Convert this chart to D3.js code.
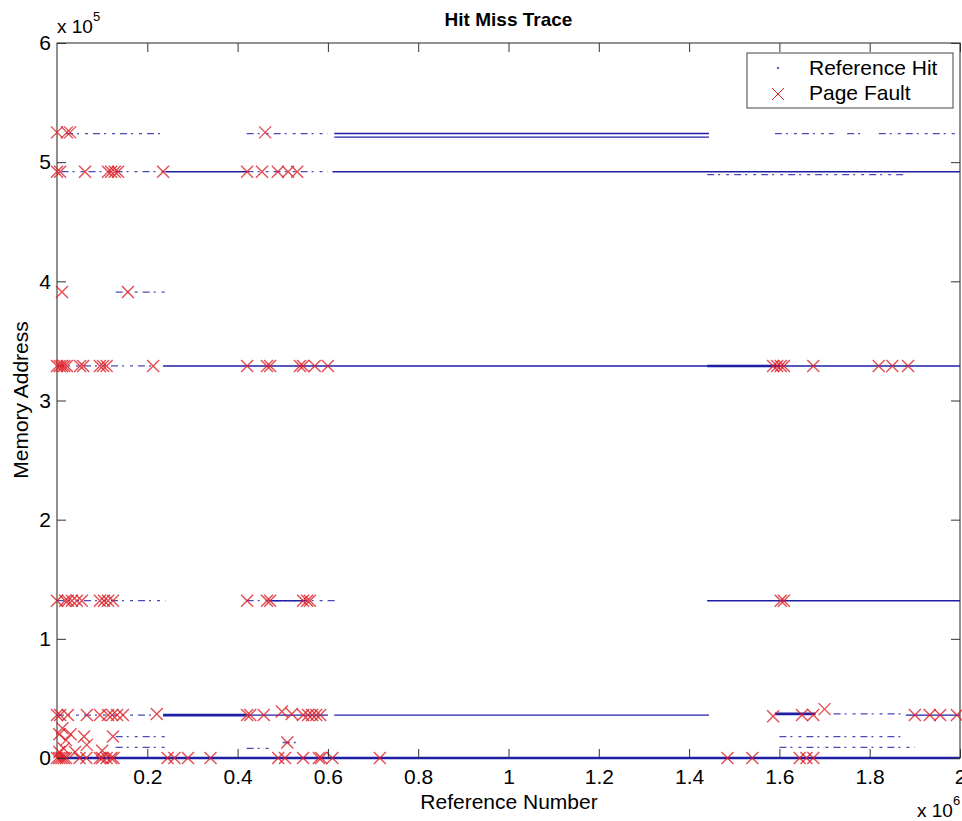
<!DOCTYPE html>
<html>
<head>
<meta charset="utf-8">
<script src="https://cdn.jsdelivr.net/npm/d3@7/dist/d3.min.js"></script>
<style>
  body { margin: 0; background: #fff; }
  svg { font-family: Arial, "Liberation Sans", sans-serif; }
</style>
</head>
<body>
<svg id="chart" width="962" height="821"></svg>
<script>
// reference number in units of 1e6, memory address in units of 1e5
var xTicks = [0.2, 0.4, 0.6, 0.8, 1, 1.2, 1.4, 1.6, 1.8, 2]
var yTicks = [0, 1, 2, 3, 4, 5, 6]

// hit runs: [address, first ref, last ref]
var heavyRuns = [
    [0.0, 0.0, 2.0],
    [3.29, 1.44, 1.6],
    [0.36, 0.235, 0.42],
    [0.37, 1.59, 1.68]
]
var solidRuns = [
    [5.24, 0.614, 1.444],
    [5.21, 0.614, 1.444],
    [4.92, 0.24, 0.42],
    [4.92, 0.61, 2.0],
    [3.29, 0.235, 2.0],
    [1.32, 0.47, 0.55],
    [1.32, 1.44, 2.0],
    [0.36, 0.42, 0.6],
    [0.36, 0.614, 1.444],
    [0.36, 1.88, 2.0]
]
var sparseRuns = [
    [5.24, 0.02, 0.24],
    [5.24, 0.42, 0.6],
    [5.24, 1.59, 1.72],
    [5.24, 1.75, 1.79],
    [5.24, 1.82, 2.0],
    [4.92, 0.01, 0.24],
    [4.92, 0.42, 0.6],
    [4.895, 1.44, 1.88],
    [3.91, 0.13, 0.24],
    [3.29, 0.0, 0.22],
    [1.32, 0.0, 0.24],
    [1.32, 0.42, 0.62],
    [0.36, 0.0, 0.22],
    [0.37, 1.72, 1.88],
    [0.18, 0.13, 0.24],
    [0.18, 1.6, 1.87],
    [0.13, 0.5, 0.53],
    [0.09, 0.13, 0.24],
    [0.08, 0.42, 0.47],
    [0.09, 1.6, 1.9]
]

// page faults: [ref, address]
var faults = [
    [0.0, 5.25], [0.022, 5.25], [0.029, 5.25], [0.461, 5.25],
    [0.0, 4.92], [0.007, 4.92], [0.062, 4.92], [0.113, 4.92], [0.12, 4.92], [0.128, 4.92],
    [0.135, 4.92], [0.235, 4.92], [0.421, 4.92], [0.454, 4.92], [0.489, 4.92], [0.512, 4.92], [0.532, 4.92],
    [0.011, 3.91], [0.157, 3.91],
    [0.0, 3.29], [0.006, 3.29], [0.011, 3.29], [0.016, 3.29], [0.022, 3.29], [0.051, 3.29], [0.058, 3.29],
    [0.095, 3.29], [0.102, 3.29], [0.11, 3.29], [0.213, 3.29], [0.421, 3.29], [0.465, 3.29], [0.472, 3.29],
    [0.538, 3.29], [0.545, 3.29], [0.571, 3.29], [0.6, 3.29], [1.586, 3.29], [1.595, 3.29], [1.603, 3.29],
    [1.61, 3.29], [1.675, 3.29], [1.82, 3.29], [1.85, 3.29], [1.885, 3.29],
    [0.0, 1.32], [0.018, 1.32], [0.024, 1.32], [0.033, 1.32], [0.044, 1.32], [0.055, 1.32], [0.095, 1.32],
    [0.104, 1.32], [0.113, 1.32], [0.124, 1.32], [0.421, 1.32], [0.465, 1.32], [0.472, 1.32], [0.545, 1.32],
    [0.554, 1.32], [0.56, 1.32], [1.603, 1.32], [1.61, 1.32],
    [0.0, 0.36], [0.007, 0.36], [0.024, 0.36], [0.066, 0.36], [0.095, 0.36], [0.113, 0.36], [0.122, 0.36],
    [0.133, 0.36], [0.146, 0.36], [0.221, 0.37], [0.421, 0.36], [0.428, 0.36], [0.458, 0.36], [0.498, 0.39],
    [0.52, 0.37], [0.545, 0.36], [0.556, 0.36], [0.565, 0.36], [0.574, 0.36], [0.583, 0.36], [1.586, 0.35],
    [1.65, 0.36], [1.675, 0.36], [1.7, 0.41], [1.9, 0.36], [1.933, 0.36], [1.956, 0.36], [1.993, 0.36],
    [0.005, 0.2], [0.012, 0.25], [0.02, 0.15], [0.03, 0.2], [0.015, 0.08], [0.06, 0.18], [0.066, 0.11],
    [0.124, 0.18], [0.005, 0.05], [0.04, 0.05], [0.1, 0.06], [0.51, 0.13],
    [0.0, 0.0], [0.005, 0.0], [0.01, 0.0], [0.015, 0.0], [0.02, 0.0], [0.05, 0.0], [0.065, 0.0],
    [0.095, 0.0], [0.1, 0.0], [0.11, 0.0], [0.12, 0.0], [0.125, 0.0], [0.245, 0.0], [0.26, 0.0],
    [0.29, 0.0], [0.34, 0.0], [0.49, 0.0], [0.505, 0.0], [0.545, 0.0], [0.58, 0.0], [0.585, 0.0],
    [0.61, 0.0], [0.715, 0.0], [1.485, 0.0], [1.54, 0.0], [1.645, 0.0], [1.66, 0.0], [1.675, 0.0]
]

var legendItems = ['Reference Hit', 'Page Fault']

var plotL = 57, plotR = 960, plotT = 43, plotB = 758
var hitColor = '#1f1fa6'
var faultColor = '#dd1c24'

document.addEventListener('DOMContentLoaded', function () {
    drawChart()
})

function xMark(sel, size) {
    sel.append('line').attr('x1', -size).attr('y1', -size).attr('x2', size).attr('y2', size)
    sel.append('line').attr('x1', -size).attr('y1', size).attr('x2', size).attr('y2', -size)
}

function drawChart() {
    const svg = d3.select('#chart')

    const x = d3.scaleLinear().domain([0, 2]).range([plotL, plotR])
    const y = d3.scaleLinear().domain([0, 6]).range([plotB, plotT])

    // axes box
    svg.append('rect')
        .attr('x', plotL).attr('y', plotT)
        .attr('width', plotR - plotL).attr('height', plotB - plotT)
        .style('fill', 'none')
        .style('stroke', '#222')
        .style('stroke-width', 1)

    const runs = svg.append('g')

    runs.selectAll('.sparse')
        .data(sparseRuns)
        .enter().append('line')
        .attr('class', 'sparse')
        .attr('x1', d => x(d[1])).attr('x2', d => x(d[2]))
        .attr('y1', d => y(d[0])).attr('y2', d => y(d[0]))
        .style('stroke', hitColor)
        .style('stroke-width', 1.3)
        .style('stroke-dasharray', '7,4,2,6,3,5')
        .style('opacity', 0.8)

    runs.selectAll('.solid')
        .data(solidRuns)
        .enter().append('line')
        .attr('class', 'solid')
        .attr('x1', d => x(d[1])).attr('x2', d => x(d[2]))
        .attr('y1', d => y(d[0])).attr('y2', d => y(d[0]))
        .style('stroke', hitColor)
        .style('stroke-width', 1.4)

    runs.selectAll('.heavy')
        .data(heavyRuns)
        .enter().append('line')
        .attr('class', 'heavy')
        .attr('x1', d => x(d[1])).attr('x2', d => x(d[2]))
        .attr('y1', d => y(d[0])).attr('y2', d => y(d[0]))
        .style('stroke', hitColor)
        .style('stroke-width', 2.6)

    svg.append('g')
        .selectAll('g')
        .data(faults)
        .enter().append('g')
        .attr('transform', d => `translate(${x(d[0])},${y(d[1])})`)
        .style('stroke', faultColor)
        .style('stroke-width', 1.35)
        .style('opacity', 0.8)
        .each(function () { xMark(d3.select(this), 6) })

    // ticks, all pointing inwards
    const xb = svg.append('g')
        .attr('transform', `translate(0,${plotB})`)
        .call(d3.axisBottom(x).tickValues(xTicks).tickSize(-9).tickPadding(20).tickFormat(d3.format('')))
    const xt = svg.append('g')
        .attr('transform', `translate(0,${plotT})`)
        .call(d3.axisTop(x).tickValues(xTicks).tickSize(-9).tickFormat(''))
    const yl = svg.append('g')
        .attr('transform', `translate(${plotL},0)`)
        .call(d3.axisLeft(y).tickValues(yTicks).tickSize(-9).tickPadding(6).tickFormat(d3.format('')))
    const yr = svg.append('g')
        .attr('transform', `translate(${plotR},0)`)
        .call(d3.axisRight(y).tickValues(yTicks).tickSize(-9).tickFormat(''))

    ;[xb, xt, yl, yr].forEach(a => {
        a.select('.domain').remove()
        a.selectAll('line').style('stroke', '#333')
        a.selectAll('text').style('font-size', '21px').style('fill', '#000')
            .style('font-family', 'Arial, "Liberation Sans", sans-serif')
    })
    xb.selectAll('text').attr('dy', '0.3em')

    // multipliers
    const m5 = svg.append('text').attr('x', plotL).attr('y', 33)
        .style('font-size', '19px')
    m5.append('tspan').text('x 10')
    m5.append('tspan').attr('dy', -12).style('font-size', '13px').text('5')

    const m6 = svg.append('text').attr('x', 917).attr('y', 817)
        .style('font-size', '19px')
    m6.append('tspan').text('x 10')
    m6.append('tspan').attr('dy', -12).style('font-size', '13px').text('6')

    svg.append('text')
        .attr('x', (plotL + plotR) / 2).attr('y', 26)
        .attr('text-anchor', 'middle')
        .style('font-size', '19px').style('font-weight', 'bold')
        .text('Hit Miss Trace')

    svg.append('text')
        .attr('x', 509).attr('y', 809)
        .attr('text-anchor', 'middle')
        .style('font-size', '21px')
        .text('Reference Number')

    svg.append('text')
        .attr('transform', 'translate(28,400) rotate(-90)')
        .attr('text-anchor', 'middle')
        .style('font-size', '21px')
        .text('Memory Address')

    // legend
    const lg = svg.append('g')
    lg.append('rect')
        .attr('x', 747).attr('y', 53).attr('width', 206).attr('height', 55)
        .style('fill', '#fff').style('stroke', '#444')
    lg.selectAll('.lt')
        .data(legendItems)
        .enter().append('text')
        .attr('class', 'lt')
        .attr('x', 809).attr('y', (d, i) => 75 + i * 25)
        .style('font-size', '21px')
        .text(d => d)
    lg.append('circle').attr('cx', 778).attr('cy', 68).attr('r', 1)
        .style('fill', hitColor)
    lg.append('g').attr('transform', 'translate(778,94)')
        .style('stroke', faultColor).style('stroke-width', 1)
        .call(g => xMark(g, 6))
}
</script>
</body>
</html>
